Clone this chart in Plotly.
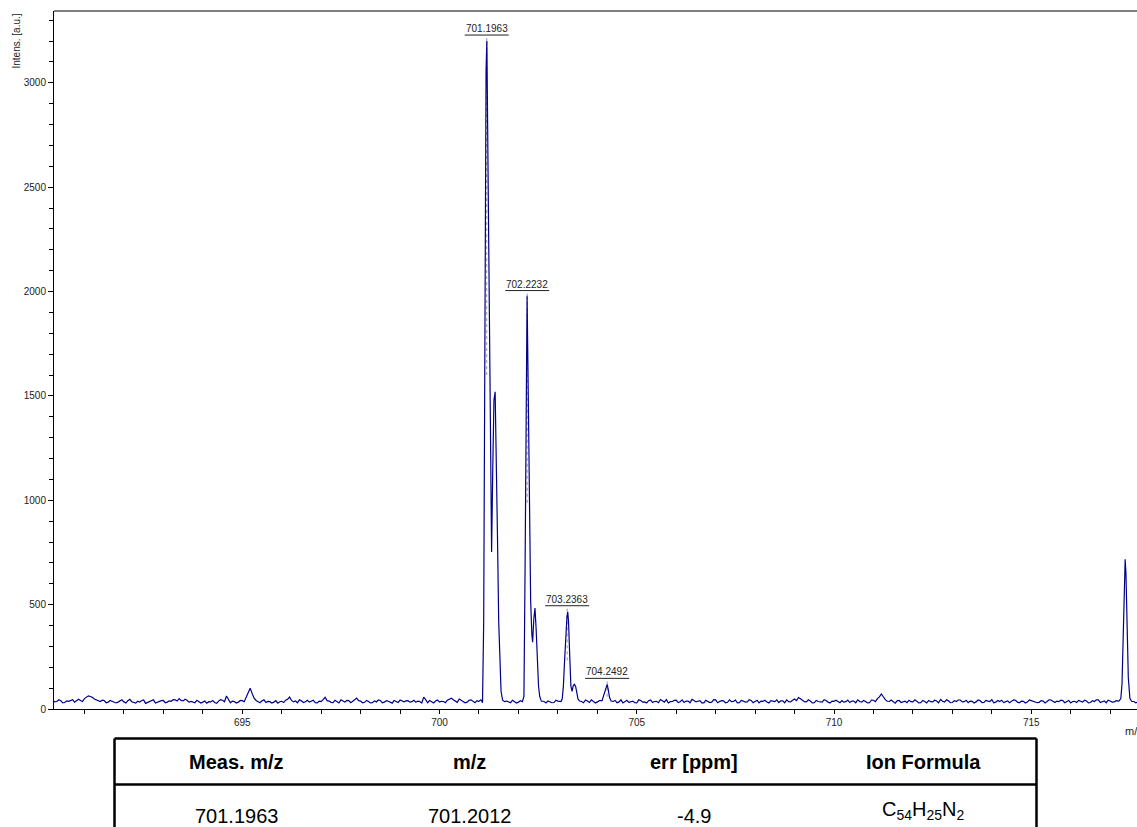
import numpy as np
import plotly.graph_objects as go

# ---------------- data ----------------
baseline_start = 690.2
baseline_step = 0.1
# noise read at 690.2, 690.3, ...
baseline_intensity = [
    42, 36, 40, 31, 37, 45, 38, 41, 50, 63,   # 690.2 - 691.1
    56, 44, 36, 40, 33, 38, 29, 37, 34, 40,   # 691.2 - 692.1
    35, 28, 33, 43, 31, 38, 29, 36, 41, 33,   # 692.2 - 693.1
    37, 44, 50, 39, 42, 36, 30, 35, 33, 28,   # 693.2 - 694.1
    34, 31, 38, 42, 62, 30, 36, 33, 40, 58,   # 694.2 - 695.1
    99, 52, 36, 39, 31, 35, 33, 28, 37, 42,   # 695.2 - 696.1
    57, 34, 30, 39, 35, 33, 42, 29, 36, 56,   # 696.2 - 697.1
    38, 31, 36, 44, 33, 40, 35, 52, 38, 32,   # 697.2 - 698.1
    36, 30, 34, 41, 33, 37, 28, 35, 43, 34,   # 698.2 - 699.1
    40, 35, 32, 36, 57, 30, 34, 38, 33, 36,   # 699.2 - 700.1
    42, 52, 38, 48, 37, 33, 44, 30, 35, 40,   # 700.2 - 701.1
    40, 40, 40, 40, 40, 38, 30, 37, 33, 36,   # 701.2 - 702.1
    40, 40, 40, 40, 33, 29, 36, 31, 38, 40,   # 702.2 - 703.1
    40, 40, 40, 40, 36, 43, 31, 38, 34, 40,   # 703.2 - 704.1
    40, 40, 36, 30, 44, 35, 32, 38, 29, 41,   # 704.2 - 705.1
    34, 40, 31, 37, 45, 33, 29, 36, 42, 35,   # 705.2 - 706.1
    31, 38, 46, 34, 40, 29, 37, 33, 44, 36,   # 706.2 - 707.1
    39, 32, 35, 43, 30, 38, 34, 41, 36, 29,   # 707.2 - 708.1
    37, 33, 40, 35, 31, 39, 44, 34, 48, 55,   # 708.2 - 709.1
    42, 34, 38, 30, 36, 33, 41, 29, 37, 34,   # 709.2 - 710.1
    40, 35, 31, 38, 44, 33, 36, 30, 42, 50,   # 710.2 - 711.1
    72, 45, 36, 33, 39, 31, 37, 42, 34, 38,   # 711.2 - 712.1
    30, 36, 41, 34, 38, 46, 33, 39, 31, 36,   # 712.2 - 713.1
    43, 35, 30, 37, 34, 40, 32, 38, 45, 33,   # 713.2 - 714.1
    36, 31, 39, 35, 42, 30, 37, 33, 40, 35,   # 714.2 - 715.1
    32, 38, 36, 43, 31, 35, 40, 34, 29, 37,   # 715.2 - 716.1
    41, 33, 38, 31, 36, 44, 35, 30, 38, 34,   # 716.2 - 717.1
    40, 40, 40, 40, 36, 33,                   # 717.2 - 717.7
]
# noise read halfway between, at 690.25, 690.35, ...
baseline_intensity_mid = [
    34, 45, 29, 39, 42, 33, 47, 36, 58, 60,   # 690.25 - 691.15
    48, 38, 42, 30, 41, 35, 33, 44, 29, 46,   # 691.25 - 692.15
    30, 37, 41, 27, 36, 44, 33, 40, 30, 39,   # 692.25 - 693.15
    45, 38, 41, 47, 33, 31, 42, 29, 38, 35,   # 693.25 - 694.15
    41, 27, 45, 35, 48, 38, 29, 41, 35, 80,   # 694.25 - 695.15
    75, 41, 30, 44, 36, 29, 40, 35, 31, 47,   # 695.25 - 696.15
    41, 38, 44, 31, 42, 37, 30, 38, 45, 40,   # 696.25 - 697.15
    32, 42, 29, 38, 41, 30, 44, 40, 30, 41,   # 697.25 - 698.15
    29, 39, 43, 30, 40, 32, 41, 31, 37, 39,   # 698.25 - 699.15
    33, 42, 38, 29, 45, 41, 29, 43, 37, 30,   # 699.25 - 700.15
    47, 44, 32, 41, 30, 42, 36, 40, 29, 33,   # 700.25 - 701.15
    40, 40, 40, 40, 35, 33, 42, 29, 40, 31,   # 701.25 - 702.15
    40, 40, 40, 40, 36, 39, 30, 42, 35, 40,   # 702.25 - 703.15
    40, 40, 40, 40, 30, 38, 44, 29, 40, 40,   # 703.25 - 704.15
    40, 40, 41, 34, 29, 42, 36, 30, 44, 33,   # 704.25 - 705.15
    29, 43, 36, 30, 39, 45, 35, 41, 31, 44,   # 705.25 - 706.15
    38, 30, 41, 37, 29, 42, 31, 45, 30, 40,   # 706.25 - 707.15
    30, 44, 36, 29, 41, 33, 45, 30, 42, 38,   # 707.25 - 708.15
    42, 29, 36, 44, 39, 30, 35, 42, 40, 49,   # 708.25 - 709.15
    35, 44, 29, 41, 34, 45, 33, 38, 42, 30,   # 709.25 - 710.15
    33, 43, 38, 30, 36, 41, 29, 43, 35, 58,   # 710.25 - 711.15
    55, 37, 43, 28, 41, 36, 30, 35, 44, 29,   # 711.25 - 712.15
    41, 29, 35, 42, 30, 37, 44, 30, 40, 43,   # 712.25 - 713.15
    34, 42, 38, 29, 43, 31, 41, 36, 30, 41,   # 713.25 - 714.15
    42, 37, 30, 44, 33, 38, 29, 43, 36, 30,   # 714.25 - 715.15
    40, 29, 44, 35, 38, 42, 30, 41, 36, 31,   # 715.25 - 716.15
    35, 42, 29, 40, 44, 31, 39, 42, 33, 40,   # 716.25 - 717.15
    40, 40, 40, 40, 30, 38,                   # 717.25 - 717.75
]

peak1_mz = [700.99, 701.05, 701.09, 701.12, 701.15, 701.18, 701.20, 701.23, 701.27, 701.30,
            701.32, 701.35, 701.38, 701.41, 701.44, 701.47, 701.50, 701.53, 701.56, 701.60]
peak1_int = [36, 44, 30, 420, 1800, 3060, 3200, 2650, 1700, 1050,
             752, 1150, 1480, 1520, 1250, 820, 420, 180, 85, 42]

peak2_mz = [702.10, 702.14, 702.17, 702.20, 702.22, 702.25, 702.28, 702.31, 702.34, 702.36,
            702.39, 702.42, 702.45, 702.48, 702.51, 702.54, 702.58]
peak2_int = [35, 60, 700, 1650, 1980, 1500, 900, 520, 360, 320,
             430, 484, 380, 220, 110, 60, 38]

peak3_mz = [703.08, 703.11, 703.14, 703.17, 703.20, 703.23, 703.25, 703.27, 703.30, 703.33,
            703.36, 703.39, 703.42, 703.45, 703.48, 703.51, 703.55]
peak3_int = [36, 48, 110, 230, 360, 440, 466, 420, 260, 110,
             85, 112, 118, 108, 80, 48, 38]

peak4_mz = [704.12, 704.16, 704.19, 704.22, 704.25, 704.28, 704.31, 704.35]
peak4_int = [40, 62, 88, 100, 118, 90, 55, 38]

peak5_mz = [717.22, 717.27, 717.30, 717.33, 717.36, 717.38, 717.40, 717.43, 717.46, 717.50, 717.55]
peak5_int = [38, 50, 120, 360, 640, 717, 650, 380, 150, 50, 36]

label_mz = [701.1963, 702.2232, 703.2363, 704.2492]
label_int = [3200, 1976, 466, 118]
label_text = ["701.1963", "702.2232", "703.2363", "704.2492"]

table_header = ["Meas. m/z", "m/z", "err [ppm]", "Ion Formula"]
table_row = ["701.1963", "701.2012", "-4.9", "C<sub>54</sub>H<sub>25</sub>N<sub>2</sub>"]

# ---------------- build spectrum ----------------
peaks = [(peak1_mz, peak1_int), (peak2_mz, peak2_int), (peak3_mz, peak3_int),
         (peak4_mz, peak4_int), (peak5_mz, peak5_int)]
b1 = np.round(baseline_start + baseline_step * np.arange(len(baseline_intensity)), 3)
b2 = np.round(baseline_start + baseline_step / 2 + baseline_step * np.arange(len(baseline_intensity_mid)), 3)
base_mz = np.concatenate([b1, b2])
base_int = np.array(baseline_intensity + baseline_intensity_mid, dtype=float)
keep = np.ones(len(base_mz), dtype=bool)
for pm, _ in peaks:
    keep &= ~((base_mz >= min(pm) - 0.03) & (base_mz <= max(pm) + 0.03))
all_mz = list(base_mz[keep])
all_int = list(base_int[keep])
for pm, pi in peaks:
    all_mz += pm
    all_int += pi
order = np.argsort(all_mz)
mz = np.array(all_mz)[order]
inten = np.array(all_int)[order]

FONT = "Liberation Sans, Arial, sans-serif"
W, H = 1137, 827
PL, PT, PR, PB = 54, 11, 1137, 709   # plot area in pixels


def px(x):
    return (x - PL) / (PR - PL)


def py(y):
    return (PB - y) / (PB - PT)


fig = go.Figure()
fig.add_trace(go.Scatter(x=mz, y=inten, mode="lines",
                         line=dict(color="#00008c", width=1.2),
                         hoverinfo="skip", showlegend=False))

shapes = []
annotations = []
for m, i, t in zip(label_mz, label_int, label_text):
    annotations.append(dict(x=m, y=i, xref="x", yref="y", text=t, showarrow=False,
                            xanchor="center", yanchor="bottom", yshift=5,
                            font=dict(family=FONT, size=10, color="#222")))
    shapes.append(dict(type="line", xref="x", yref="y", xsizemode="pixel", xanchor=m,
                       x0=-22, x1=22, ysizemode="pixel", yanchor=i, y0=6, y1=6,
                       line=dict(color="#222", width=1)))
    shapes.append(dict(type="line", xref="x", yref="y", x0=m, x1=m,
                       ysizemode="pixel", yanchor=i, y0=0, y1=6,
                       line=dict(color="#999", width=1, dash="dot")))
    shapes.append(dict(type="line", xref="x", yref="y", x0=m, x1=m, y0=i * 0.5, y1=i,
                       layer="below", line=dict(color="#999", width=1, dash="dot")))

# axis titles
annotations.append(dict(x=px(16), y=py(12), xref="paper", yref="paper", text="Intens. [a.u.]",
                        textangle=-90, showarrow=False, xanchor="center", yanchor="top",
                        font=dict(family=FONT, size=10, color="#222")))
annotations.append(dict(x=px(1123), y=py(731), xref="paper", yref="paper", text="m/z",
                        showarrow=False, xanchor="left", yanchor="middle",
                        font=dict(family=FONT, size=11, color="#222")))

# table
tl, tr, tt, tm, tb = 114.5, 1036.5, 738.5, 784.5, 840
for (x0, y0, x1, y1) in [(tl, tt, tr, tt), (tl, tm, tr, tm), (tl, tt, tl, tb), (tr, tt, tr, tb)]:
    shapes.append(dict(type="line", xref="paper", yref="paper", x0=px(x0), y0=py(y0),
                       x1=px(x1), y1=py(y1), line=dict(color="black", width=2.5)))
col_x = [236, 469, 694, 923]
row_y = [816, 816, 816, 810]
for cx, ry, h, r in zip(col_x, row_y, table_header, table_row):
    annotations.append(dict(x=px(cx), y=py(762), xref="paper", yref="paper", text="<b>" + h + "</b>",
                            showarrow=False, xanchor="center", yanchor="middle",
                            font=dict(family=FONT, size=20, color="black")))
    annotations.append(dict(x=px(cx), y=py(ry), xref="paper", yref="paper", text=r,
                            showarrow=False, xanchor="center", yanchor="middle",
                            font=dict(family=FONT, size=20, color="black")))

axis_common = dict(showline=True, linecolor="black", linewidth=1, mirror=False,
                   showgrid=False, zeroline=False, ticks="outside", tickcolor="black",
                   tickfont=dict(family=FONT, size=10, color="#222"))

fig.update_layout(
    width=W, height=H,
    margin=dict(l=PL, r=W - PR, t=PT, b=H - PB, pad=0),
    paper_bgcolor="white", plot_bgcolor="white",
    xaxis=dict(range=[690.228, 717.68], tickmode="linear", tick0=695, dtick=5,
               ticklen=4, tickwidth=1,
               minor=dict(ticks="outside", dtick=1, tick0=690, ticklen=3.5, tickcolor="black"),
               **axis_common),
    yaxis=dict(range=[0, 3344], tickmode="linear", tick0=0, dtick=500,
               ticklen=5, tickwidth=1,
               minor=dict(ticks="outside", dtick=100, ticklen=4, tickcolor="black"),
               **axis_common),
    shapes=shapes + [dict(type="line", xref="paper", yref="paper", x0=0, x1=1, y0=1, y1=1,
                          line=dict(color="black", width=1))],
    annotations=annotations,
)

fig.write_html("out.html")
